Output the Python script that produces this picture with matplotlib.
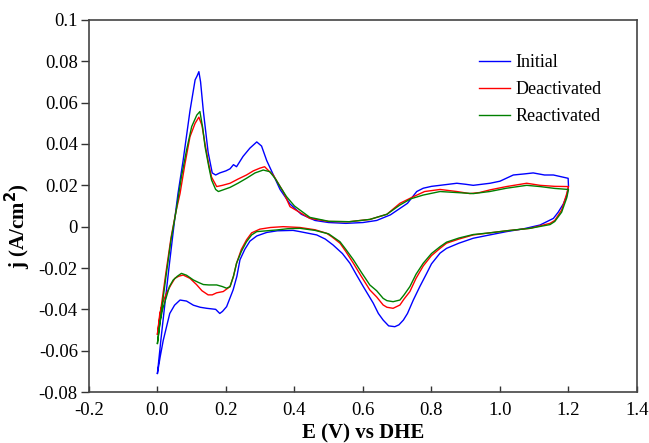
import matplotlib
matplotlib.use('Agg')
import matplotlib.pyplot as plt
from matplotlib.ticker import FuncFormatter

plt.rcParams['font.family'] = ['Liberation Serif', 'DejaVu Serif']
plt.rcParams['axes.unicode_minus'] = False

# Initial (blue) - anodic sweep then cathodic sweep
initial_e = [0.000, 0.010, 0.020, 0.035, 0.050, 0.060, 0.075, 0.095, 0.110, 0.116,
             0.121, 0.126, 0.134, 0.148, 0.160, 0.170, 0.182, 0.200, 0.212, 0.222,
             0.231, 0.250, 0.270, 0.290, 0.304, 0.319, 0.333, 0.358, 0.387, 0.420,
             0.460, 0.500, 0.550, 0.600, 0.640, 0.680, 0.730, 0.757, 0.776, 0.800,
             0.825, 0.874, 0.900, 0.922, 0.971, 1.000, 1.039, 1.070, 1.097, 1.130,
             1.156, 1.199, 1.200,
             1.195, 1.185, 1.170, 1.156, 1.117, 1.070, 1.019, 0.970, 0.922, 0.880,
             0.844, 0.825, 0.800, 0.786, 0.766, 0.747, 0.730, 0.718, 0.705, 0.693,
             0.675, 0.659, 0.645, 0.630, 0.601, 0.580, 0.562, 0.540, 0.513, 0.490,
             0.465, 0.416, 0.396, 0.350, 0.319, 0.290, 0.270, 0.255, 0.241, 0.232,
             0.221, 0.202, 0.190, 0.182, 0.170, 0.144, 0.125, 0.105, 0.085, 0.066,
             0.050, 0.036, 0.017, 0.008, 0.000]
initial_j = [-0.071, -0.055, -0.040, -0.018, 0.003, 0.016, 0.032, 0.056, 0.071, 0.073,
             0.075, 0.070, 0.056, 0.036, 0.026, 0.025, 0.026, 0.027, 0.028, 0.030,
             0.029, 0.034, 0.038, 0.041, 0.039, 0.032, 0.027, 0.018, 0.011, 0.006,
             0.003, 0.002, 0.0016, 0.002, 0.003, 0.0057, 0.0113, 0.017, 0.0186, 0.0195,
             0.020, 0.021, 0.0205, 0.020, 0.021, 0.022, 0.025, 0.0255, 0.026, 0.025,
             0.025, 0.0234, 0.0195,
             0.015, 0.011, 0.007, 0.004, 0.0008, -0.001, -0.0024, -0.004, -0.0056, -0.008,
             -0.0105, -0.0128, -0.018, -0.0226, -0.029, -0.0355, -0.042, -0.0452, -0.0475, -0.0484,
             -0.048, -0.0452, -0.042, -0.037, -0.029, -0.023, -0.0177, -0.013, -0.0089, -0.006,
             -0.004, -0.0024, -0.0018, -0.0020, -0.0028, -0.0045, -0.0070, -0.011, -0.016, -0.024,
             -0.0306, -0.0387, -0.041, -0.042, -0.040, -0.0395, -0.039, -0.038, -0.036, -0.0355,
             -0.038, -0.042, -0.055, -0.063, -0.071]

# Deactivated (red)
deact_e = [0.000, 0.010, 0.025, 0.040, 0.055, 0.066, 0.080, 0.095, 0.110, 0.121,
           0.130, 0.139, 0.150, 0.158, 0.173, 0.190, 0.212, 0.235, 0.260, 0.280,
           0.299, 0.313, 0.325, 0.338, 0.367, 0.387, 0.445, 0.500, 0.560, 0.620,
           0.670, 0.708, 0.747, 0.780, 0.825, 0.874, 0.912, 0.940, 0.971, 1.019,
           1.078, 1.117, 1.160, 1.200,
           1.195, 1.180, 1.160, 1.146, 1.088, 1.019, 0.970, 0.922, 0.880, 0.844,
           0.825, 0.800, 0.776, 0.755, 0.737, 0.720, 0.708, 0.688, 0.670, 0.659,
           0.640, 0.620, 0.595, 0.572, 0.550, 0.533, 0.510, 0.494, 0.460, 0.416,
           0.367, 0.330, 0.299, 0.275, 0.260, 0.245, 0.231, 0.222, 0.212, 0.192,
           0.173, 0.160, 0.148, 0.130, 0.114, 0.095, 0.075, 0.062, 0.051, 0.040,
           0.027, 0.015, 0.007, 0.000]
deact_j = [-0.052, -0.040, -0.022, -0.005, 0.008, 0.016, 0.030, 0.0435, 0.050, 0.053,
           0.049, 0.040, 0.030, 0.024, 0.0194, 0.020, 0.021, 0.023, 0.025, 0.027,
           0.0283, 0.029, 0.027, 0.025, 0.017, 0.0097, 0.004, 0.0025, 0.0024, 0.0035,
           0.006, 0.0113, 0.0145, 0.017, 0.0180, 0.017, 0.016, 0.0165, 0.0178, 0.0194,
           0.021, 0.020, 0.0195, 0.0194,
           0.016, 0.008, 0.003, 0.0016, -0.0008, -0.002, -0.003, -0.004, -0.006, -0.008,
           -0.0105, -0.014, -0.019, -0.025, -0.0314, -0.035, -0.0379, -0.0395, -0.039, -0.0379,
           -0.034, -0.0306, -0.024, -0.0177, -0.012, -0.008, -0.005, -0.0032, -0.0015, -0.0004,
           0.0000, -0.0004, -0.0012, -0.003, -0.0064, -0.011, -0.0177, -0.024, -0.029, -0.0314,
           -0.032, -0.033, -0.033, -0.031, -0.028, -0.025, -0.0234, -0.024, -0.025, -0.028,
           -0.032, -0.037, -0.042, -0.052]

# Reactivated (green)
react_e = [0.000, 0.010, 0.025, 0.040, 0.055, 0.070, 0.085, 0.100, 0.115, 0.124,
           0.132, 0.139, 0.150, 0.158, 0.170, 0.178, 0.195, 0.212, 0.235, 0.260,
           0.285, 0.309, 0.328, 0.345, 0.358, 0.377, 0.400, 0.445, 0.500, 0.560,
           0.620, 0.670, 0.708, 0.740, 0.776, 0.825, 0.874, 0.922, 0.970, 1.019,
           1.078, 1.117, 1.160, 1.200,
           1.195, 1.180, 1.160, 1.146, 1.088, 1.019, 0.970, 0.922, 0.880, 0.844,
           0.825, 0.800, 0.776, 0.755, 0.737, 0.720, 0.708, 0.688, 0.670, 0.659,
           0.640, 0.620, 0.595, 0.572, 0.550, 0.533, 0.500, 0.460, 0.416, 0.380,
           0.348, 0.290, 0.275, 0.260, 0.245, 0.231, 0.222, 0.212, 0.202, 0.190,
           0.173, 0.150, 0.134, 0.120, 0.105, 0.085, 0.070, 0.058, 0.046, 0.035,
           0.027, 0.015, 0.007, 0.000]
react_j = [-0.0565, -0.043, -0.024, -0.006, 0.008, 0.024, 0.037, 0.0484, 0.054, 0.0557,
           0.048, 0.0387, 0.029, 0.0226, 0.018, 0.017, 0.018, 0.019, 0.021, 0.0234,
           0.026, 0.0274, 0.0266, 0.023, 0.0194, 0.0145, 0.010, 0.0045, 0.0026, 0.0024,
           0.0035, 0.0060, 0.0105, 0.0135, 0.0153, 0.0170, 0.0165, 0.016, 0.017, 0.0186,
           0.020, 0.0194, 0.0185, 0.018,
           0.014, 0.007, 0.0025, 0.001, -0.0008, -0.002, -0.003, -0.0038, -0.0055, -0.0075,
           -0.0097, -0.013, -0.0177, -0.023, -0.029, -0.033, -0.0355, -0.0363, -0.0358, -0.0347,
           -0.031, -0.0282, -0.022, -0.016, -0.011, -0.0073, -0.0035, -0.0018, -0.0008, -0.0010,
           -0.0016, -0.0024, -0.004, -0.0073, -0.012, -0.0177, -0.024, -0.029, -0.0298, -0.0290,
           -0.0282, -0.0282, -0.028, -0.027, -0.0258, -0.0235, -0.0226, -0.024, -0.0258, -0.029,
           -0.0335, -0.040, -0.0468, -0.0565]

x_ticks = [-0.2, 0.0, 0.2, 0.4, 0.6, 0.8, 1.0, 1.2, 1.4]
y_ticks = [-0.08, -0.06, -0.04, -0.02, 0, 0.02, 0.04, 0.06, 0.08, 0.1]


fig = plt.figure(figsize=(6.49, 4.43), dpi=100)
ax = fig.add_axes([0.137, 0.1151, 0.8445, 0.8398])

ax.plot(initial_e, initial_j, color='#0000ff', linewidth=1.0, label='Initial')
ax.plot(deact_e, deact_j, color='#ff0000', linewidth=1.0, label='Deactivated')
ax.plot(react_e, react_j, color='#008000', linewidth=1.0, label='Reactivated')

# Limits
ax.set_xlim(-0.2, 1.4)
ax.set_ylim(-0.08, 0.1)
ax.set_xticks(x_ticks)
ax.set_yticks(y_ticks)
ax.xaxis.set_major_formatter(FuncFormatter(lambda v, p: '%.1f' % v))
ax.yaxis.set_major_formatter(FuncFormatter(lambda v, p: '%g' % round(v, 3)))

# ticks: left outward, bottom inward
ax.tick_params(axis='y', direction='out', length=6, width=1, labelsize=13.5, pad=2, color='#333333')
ax.tick_params(axis='x', direction='in', length=4, width=1, labelsize=13.5, pad=7, color='#333333')

for s in ax.spines.values():
    s.set_color('#444444')
    s.set_linewidth(1.2)

ax.set_xlabel('E (V) vs DHE', fontsize=15, fontweight='bold')
ax.set_ylabel('j (A/cm$^\\mathbf{2}$)', fontsize=15, fontweight='bold')
ax.xaxis.set_label_coords(0.5, -0.085)
ax.yaxis.set_label_coords(-0.102, 0.446)

ax.legend(loc='upper left', bbox_to_anchor=(0.712, 0.908), frameon=False,
          fontsize=13, handlelength=1.7, handletextpad=0.3, labelspacing=0.55,
          borderpad=0, borderaxespad=0)

fig.savefig('out.png', dpi=100)
